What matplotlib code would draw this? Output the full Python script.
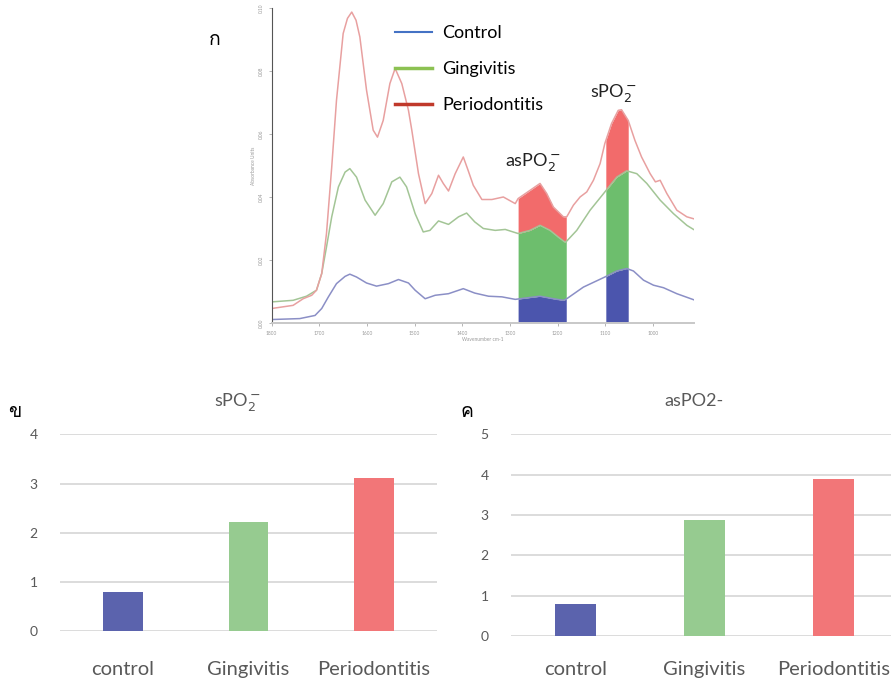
import numpy as np
import matplotlib
matplotlib.use("Agg")
import matplotlib.pyplot as plt
from matplotlib.lines import Line2D
from matplotlib import font_manager, ft2font

# FTIR spectrum (wavenumber cm-1, absorbance)
wn_control = [1800, 1741, 1709, 1695, 1681, 1664, 1646, 1636, 1622, 1601, 1580, 1555, 1534, 1513,
              1499, 1478, 1457, 1429, 1398, 1374, 1345, 1317, 1289, 1258, 1237, 1209, 1188, 1181,
              1146, 1101, 1076, 1055, 1041, 1020, 999, 978, 950, 915]
abs_control = [0.0011, 0.0014, 0.0024, 0.0046, 0.0083, 0.0125, 0.0148, 0.0155, 0.0146, 0.0127,
               0.0117, 0.0125, 0.0138, 0.0127, 0.0104, 0.0077, 0.0088, 0.0093, 0.0109, 0.0095,
               0.0085, 0.0083, 0.0075, 0.0081, 0.0085, 0.0077, 0.0072, 0.0077, 0.0114, 0.0146,
               0.0165, 0.0173, 0.0165, 0.0136, 0.0120, 0.0112, 0.0093, 0.0074]

wn_ging = [1800, 1755, 1727, 1706, 1695, 1685, 1674, 1660, 1646, 1636, 1622, 1604, 1583, 1566,
           1548, 1531, 1517, 1499, 1482, 1468, 1450, 1429, 1408, 1391, 1374, 1356, 1331, 1310,
           1283, 1258, 1237, 1216, 1199, 1185, 1181, 1160, 1132, 1101, 1076, 1055, 1034, 1013,
           985, 957, 929, 915]
abs_ging = [0.0067, 0.0072, 0.0085, 0.0104, 0.0157, 0.0241, 0.0337, 0.0432, 0.0479, 0.0490,
            0.0463, 0.0390, 0.0342, 0.0379, 0.0448, 0.0463, 0.0432, 0.0347, 0.0289, 0.0294,
            0.0324, 0.0313, 0.0337, 0.0349, 0.0321, 0.0300, 0.0294, 0.0297, 0.0284, 0.0294,
            0.0310, 0.0294, 0.0273, 0.0257, 0.0260, 0.0294, 0.0358, 0.0416, 0.0463, 0.0483,
            0.0474, 0.0443, 0.0390, 0.0347, 0.0310, 0.0297]

wn_perio = [1800, 1755, 1734, 1716, 1706, 1695, 1685, 1674, 1664, 1650, 1641, 1632, 1623, 1615,
            1601, 1587, 1578, 1566, 1552, 1541, 1527, 1513, 1506, 1492, 1478, 1464, 1450, 1440,
            1429, 1415, 1398, 1388, 1377, 1359, 1338, 1314, 1289, 1283, 1258, 1237, 1223, 1209,
            1188, 1181, 1167, 1153, 1139, 1125, 1111, 1101, 1087, 1073, 1066, 1052, 1038, 1024,
            1006, 995, 985, 971, 950, 929, 915]
abs_perio = [0.0046, 0.0056, 0.0077, 0.0088, 0.0104, 0.0157, 0.0284, 0.0495, 0.0707, 0.0919,
             0.0967, 0.0987, 0.0961, 0.0908, 0.0739, 0.0612, 0.0590, 0.0643, 0.0760, 0.0808,
             0.0760, 0.0675, 0.0612, 0.0474, 0.0379, 0.0411, 0.0469, 0.0443, 0.0419, 0.0474,
             0.0527, 0.0485, 0.0437, 0.0392, 0.0392, 0.0400, 0.0379, 0.0395, 0.0421, 0.0443,
             0.0411, 0.0368, 0.0337, 0.0337, 0.0374, 0.0400, 0.0416, 0.0453, 0.0506, 0.0570,
             0.0633, 0.0675, 0.0677, 0.0643, 0.0580, 0.0527, 0.0474, 0.0448, 0.0453, 0.0411,
             0.0358, 0.0337, 0.0331]

as_band = (1283, 1182)
s_band = (1099, 1052)

# bar charts
categories = ["control", "Gingivitis", "Periodontitis"]
spo2_values = [0.80, 2.22, 3.11]
aspo2_values = [0.79, 2.88, 3.89]
bar_colors = ["#5b63ad", "#96cb90", "#f27678"]

plt.rcParams["font.family"] = ["Lato", "DejaVu Sans"]
TEXT = "#595959"


def thai_font(size):
    # an installed font with Thai glyphs, regular weight if there is one
    found = []
    for path in sorted(font_manager.findSystemFonts()):
        try:
            if 0x0E01 in ft2font.FT2Font(path).get_charmap():
                found.append(path)
        except Exception:
            continue
    plain = [p for p in found if not any(w in p for w in ("Bold", "Black", "Heavy", "Oblique", "Italic"))]
    pick = (plain or found or [None])[0]
    if pick is None:
        return font_manager.FontProperties(family="DejaVu Sans", size=size)
    return font_manager.FontProperties(fname=pick, size=size)


def band_fill(ax, band, lines, colors):
    hi, lo = band
    xs = np.linspace(lo, hi, 80)
    prev = np.zeros_like(xs)
    for (wn, ab), c in zip(lines, colors):
        ys = np.interp(xs, wn[::-1], ab[::-1])
        ax.fill_between(xs, prev, ys, color=c, lw=0)
        prev = ys


fig = plt.figure(figsize=(8.91, 6.81), dpi=100)
thai = thai_font(14)

# ---- spectrum ----
ax = fig.add_axes([0.3049, 0.5257, 0.474, 0.4626])
series = [(np.array(wn_control), np.array(abs_control)),
          (np.array(wn_ging), np.array(abs_ging)),
          (np.array(wn_perio), np.array(abs_perio))]
fills = ["#4b55ad", "#6dbe6d", "#f26b6b"]
band_fill(ax, as_band, series, fills)
band_fill(ax, s_band, series, fills)

ax.plot(wn_control, abs_control, color="#8b8fc6", lw=1.1, solid_joinstyle="round")
ax.plot(wn_ging, abs_ging, color="#a3c596", lw=1.1, solid_joinstyle="round")
ax.plot(wn_perio, abs_perio, color="#e8a0a0", lw=1.1, solid_joinstyle="round")

ax.set_xlim(1800, 914)
ax.set_ylim(0, 0.1)
ax.set_xticks(np.arange(1800, 999, -100))
ax.set_yticks(np.arange(0, 0.101, 0.02))
ax.set_yticklabels([f"{v:.2f}" for v in np.arange(0, 0.101, 0.02)], rotation=90, va="center")
ax.tick_params(labelsize=3.5, labelcolor="#999999", color="#aaaaaa", length=2, width=0.6)
ax.set_xlabel("Wavenumber cm-1", fontsize=3.5, color="#999999", labelpad=1)
ax.set_ylabel("Absorbance Units", fontsize=3.5, color="#999999", labelpad=2)
for s in ["top", "right"]:
    ax.spines[s].set_visible(False)
ax.spines["left"].set_color("#555555")
ax.spines["bottom"].set_color("#c8c8c8")
ax.spines["bottom"].set_linewidth(1.4)

ax.text(1252, 0.051, r"asPO$_2^-$", fontsize=13, color="#222222", ha="center", va="center")
ax.text(1084, 0.0729, r"sPO$_2^-$", fontsize=13, color="#222222", ha="center", va="center")

handles = [Line2D([], [], color="#4472c4", lw=1.5),
           Line2D([], [], color="#8cc152", lw=2.5),
           Line2D([], [], color="#c0392b", lw=2.5)]
ax.legend(handles, ["Control", "Gingivitis", "Periodontitis"], loc="upper left",
          bbox_to_anchor=(395 / 891, 1 - 25 / 681), bbox_transform=fig.transFigure,
          frameon=False, fontsize=13, handlelength=2.05, handletextpad=0.55,
          borderpad=0, borderaxespad=0, labelspacing=1.12)

fig.text(215 / 891, 1 - 40 / 681, "ก", fontproperties=thai, ha="center", va="center")


# ---- bar charts ----
def bar_panel(rect, values, ymax, title, xpad):
    bx = fig.add_axes(rect)
    x = np.arange(len(categories))
    bx.bar(x, values, width=0.315, color=bar_colors, zorder=2)
    bx.set_xlim(-0.5, len(categories) - 0.5)
    bx.set_ylim(0, ymax)
    bx.set_yticks(range(ymax + 1))
    bx.set_xticks(x)
    bx.set_xticklabels(categories)
    bx.grid(axis="y", color="#d9d9d9", lw=1.3, zorder=0)
    for s in bx.spines.values():
        s.set_visible(False)
    bx.tick_params(axis="y", length=0, labelsize=10, labelcolor=TEXT, pad=16)
    bx.tick_params(axis="x", length=0, labelsize=14.5, labelcolor=TEXT, pad=xpad)
    bx.text(0.472, 1.166, title, transform=bx.transAxes, ha="center", va="center",
            fontsize=13, color=TEXT)
    return bx


bar_panel([0.0673, 0.0734, 0.4228, 0.2888], spo2_values, 4, r"sPO$_2^-$", 21.5)
bar_panel([0.5735, 0.0661, 0.4343, 0.2962], aspo2_values, 5, "asPO2-", 18)
fig.text(15 / 891, 1 - 411.7 / 681, "ข", fontproperties=thai, ha="center", va="center")
fig.text(467.3 / 891, 1 - 411.7 / 681, "ค", fontproperties=thai, ha="center", va="center")

fig.savefig("out.png", dpi=100)
